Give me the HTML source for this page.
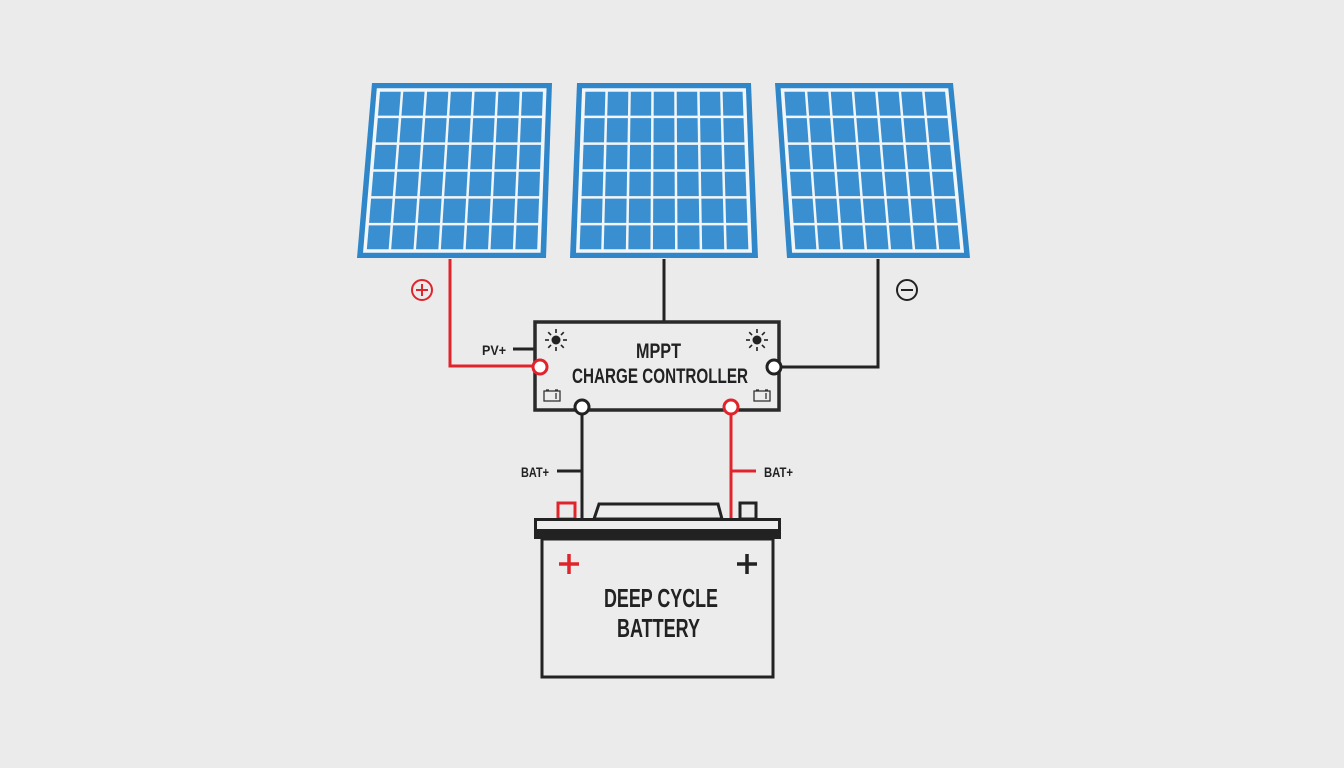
<!DOCTYPE html>
<html><head><meta charset="utf-8"><style>
html,body{margin:0;padding:0;background:#ebebeb;}
svg{display:block}
text{font-family:"Liberation Sans",sans-serif;font-weight:bold;fill:#222}
</style></head><body>
<svg id="s" width="1344" height="768" viewBox="0 0 1344 768" xmlns="http://www.w3.org/2000/svg">
<rect width="1344" height="768" fill="#ebebeb"/>
<g id="panels"></g>
<polyline points="450,259 450,366 533,366" fill="none" stroke="#e0242c" stroke-width="3"/>
<line x1="664" y1="259" x2="664" y2="322" stroke="#222" stroke-width="3"/>
<polyline points="878,259 878,367 780,367" fill="none" stroke="#222" stroke-width="3"/>
<line x1="582" y1="414" x2="582" y2="519" stroke="#222" stroke-width="3"/>
<line x1="731" y1="414" x2="731" y2="519" stroke="#e0242c" stroke-width="3"/>
<line x1="557" y1="471" x2="582" y2="471" stroke="#222" stroke-width="3"/>
<line x1="731" y1="471" x2="756" y2="471" stroke="#e0242c" stroke-width="3"/>
<line x1="513" y1="349" x2="535" y2="349" stroke="#222" stroke-width="3"/>
<rect x="535" y="322" width="244" height="88" fill="#ececec" stroke="#2a2a2a" stroke-width="3.5"/>
<text x="636" y="358" font-size="21" textLength="45" lengthAdjust="spacingAndGlyphs">MPPT</text>
<text x="572" y="383" font-size="21" textLength="176" lengthAdjust="spacingAndGlyphs">CHARGE CONTROLLER</text>
<text x="482" y="355" font-size="14" textLength="24" lengthAdjust="spacingAndGlyphs">PV+</text>
<text x="521" y="477" font-size="14" textLength="28" lengthAdjust="spacingAndGlyphs">BAT+</text>
<text x="764" y="477" font-size="14" textLength="29" lengthAdjust="spacingAndGlyphs">BAT+</text>
<g id="suns"></g>
<g fill="none" stroke="#333" stroke-width="1.3">
<rect x="544" y="391" width="16" height="10"/><line x1="556" y1="393" x2="556" y2="399"/><line x1="546" y1="390" x2="549" y2="390"/><line x1="555" y1="390" x2="558" y2="390"/>
<rect x="754" y="391" width="16" height="10"/><line x1="766" y1="393" x2="766" y2="399"/><line x1="756" y1="390" x2="759" y2="390"/><line x1="765" y1="390" x2="768" y2="390"/>
</g>
<circle cx="540" cy="367" r="7" fill="#fff" stroke="#e0242c" stroke-width="3"/>
<circle cx="774" cy="367" r="7" fill="#fff" stroke="#222" stroke-width="3"/>
<circle cx="582" cy="407" r="7" fill="#fff" stroke="#222" stroke-width="3"/>
<circle cx="731" cy="407" r="7" fill="#fff" stroke="#e0242c" stroke-width="3"/>
<circle cx="422" cy="290" r="10" fill="none" stroke="#e0242c" stroke-width="2"/>
<line x1="416" y1="290" x2="428" y2="290" stroke="#e0242c" stroke-width="2"/><line x1="422" y1="284" x2="422" y2="296" stroke="#e0242c" stroke-width="2"/>
<circle cx="907" cy="290" r="10" fill="none" stroke="#222" stroke-width="2"/>
<line x1="901" y1="290" x2="913" y2="290" stroke="#222" stroke-width="2"/>
<rect x="558" y="503" width="17" height="16" fill="none" stroke="#e0242c" stroke-width="3"/>
<rect x="740" y="503" width="16" height="16" fill="none" stroke="#222" stroke-width="3"/>
<polygon points="594,519 599,504 718,504 722,519" fill="#ececec" stroke="#222" stroke-width="3"/>
<rect x="534" y="518" width="247" height="21" fill="#222"/>
<rect x="537" y="521" width="241" height="8" fill="#ededed"/>
<rect x="542" y="539" width="231" height="138" fill="#ececec" stroke="#222" stroke-width="3"/>
<line x1="559" y1="564" x2="579" y2="564" stroke="#e0242c" stroke-width="3.5"/><line x1="569" y1="554" x2="569" y2="574" stroke="#e0242c" stroke-width="3.5"/>
<line x1="737" y1="564" x2="757" y2="564" stroke="#222" stroke-width="3.5"/><line x1="747" y1="554" x2="747" y2="574" stroke="#222" stroke-width="3.5"/>
<text x="604" y="607" font-size="26" textLength="114" lengthAdjust="spacingAndGlyphs">DEEP CYCLE</text>
<text x="617" y="637" font-size="26" textLength="83" lengthAdjust="spacingAndGlyphs">BATTERY</text>
</svg>
<script>
var NS="http://www.w3.org/2000/svg";
function el(t,a,p){var e=document.createElementNS(NS,t);for(var k in a)e.setAttribute(k,a[k]);p.appendChild(e);return e;}
var g=document.getElementById("panels");
var P=[[372,83,552,83,546,258,357,258],[577,83,751,83,758,258,570,258],[775,83,953,83,970,258,787,258]];
function lerp(a,b,t){return [a[0]+(b[0]-a[0])*t,a[1]+(b[1]-a[1])*t];}
P.forEach(function(p){
 el("polygon",{points:p.join(","),fill:"#2f86c9"},g);
 var TL=[p[0],p[1]],TR=[p[2],p[3]],BR=[p[4],p[5]],BL=[p[6],p[7]];
 function pt(u,v){var a=lerp(TL,TR,u),b=lerp(BL,BR,u);return lerp(a,b,v);}
 var mu=7/((p[2]-p[0])),mv=7/175;
 function q(u,v){return pt(mu+(1-2*mu)*u,mv+(1-2*mv)*v);}
 var c=[q(0,0),q(1,0),q(1,1),q(0,1)];
 el("polygon",{points:c.map(function(x){return x.join(",")}).join(" "),fill:"#3a8fd0",stroke:"#f2f6f9","stroke-width":3.5},g);
 for(var i=1;i<7;i++){var a=q(i/7,0),b=q(i/7,1);el("line",{x1:a[0],y1:a[1],x2:b[0],y2:b[1],stroke:"#f2f6f9","stroke-width":2.5},g);}
 for(var j=1;j<6;j++){var a=q(0,j/6),b=q(1,j/6);el("line",{x1:a[0],y1:a[1],x2:b[0],y2:b[1],stroke:"#f2f6f9","stroke-width":2.5},g);}
});
var s=document.getElementById("suns");
[[556,340],[757,340]].forEach(function(c){
 el("circle",{cx:c[0],cy:c[1],r:4.5,fill:"#222"},s);
 for(var k=0;k<8;k++){var a=k*Math.PI/4;el("line",{x1:c[0]+7*Math.cos(a),y1:c[1]+7*Math.sin(a),x2:c[0]+11*Math.cos(a),y2:c[1]+11*Math.sin(a),stroke:"#222","stroke-width":1.6},s);}
});
</script>
</body></html>
